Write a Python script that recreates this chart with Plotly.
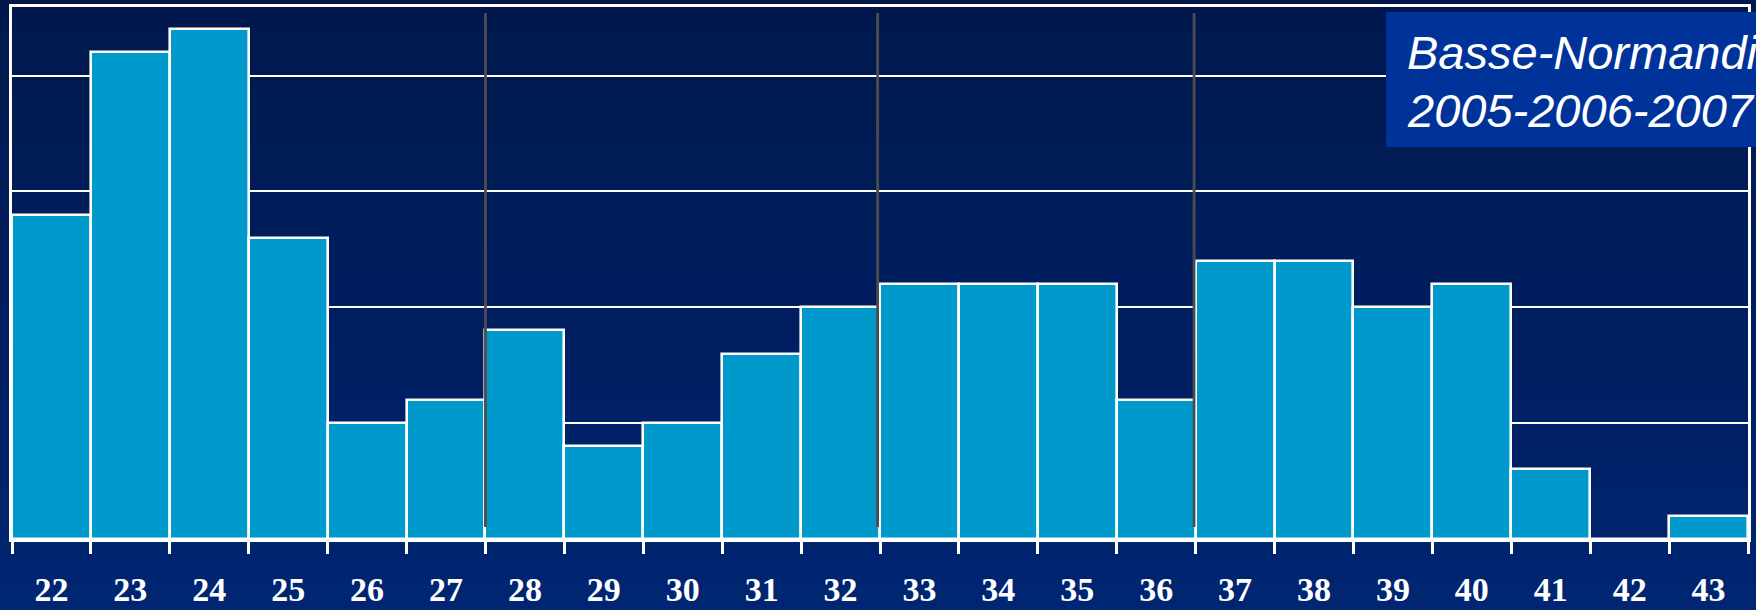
import plotly.graph_objects as go

# ---- data -----------------------------------------------------------
weeks = list(range(22, 44))
counts = [14, 21, 22, 13, 5, 6, 9, 4, 5, 8, 10, 11, 11, 11, 6, 12, 12, 10, 11, 3, 0, 1]
tick_labels = [str(w) for w in weeks]
separators = [27.5, 32.47, 36.48]
box_lines = ["Basse-Normandie", "2005-2006-2007"]

# ---- page geometry --------------------------------------------------
W, H = 1756, 610
ML, MR, MT, MB = 12, 8, 7, 71
PH = H - MT - MB
PW = W - ML - MR


def py2paper(py):
    return (H - MB - py) / PH


def px2paper(px):
    return (px - ML) / PW


fig = go.Figure()
fig.add_trace(go.Bar(
    x=weeks, y=counts,
    marker=dict(color="#0099cc", line=dict(color="white", width=2.6)),
    width=1.0,
    hoverinfo="x+y",
))

shapes = []
# vertical background gradient (page-wide)
top_c = (0, 24, 76)
bot_c = (0, 37, 114)
n = 61
for i in range(n):
    t = i / (n - 1)
    c = tuple(round(top_c[k] + (bot_c[k] - top_c[k]) * t) for k in range(3))
    y0 = H * i / n
    y1 = H * (i + 1) / n + 1
    shapes.append(dict(type="rect", xref="paper", yref="paper",
                       x0=px2paper(-5), x1=px2paper(W + 5),
                       y0=py2paper(y1), y1=py2paper(y0),
                       fillcolor="rgb(%d,%d,%d)" % c, line=dict(width=0),
                       layer="below"))

# grey separators
for s in separators:
    shapes.append(dict(type="line", xref="x", yref="y", x0=s, x1=s,
                       y0=0.52, y1=22.7,
                       line=dict(color="#4d4d4d", width=2.8), layer="above"))

# title box
shapes.append(dict(type="rect", xref="paper", yref="paper",
                   x0=px2paper(1386), x1=px2paper(W + 10),
                   y0=py2paper(147), y1=py2paper(12),
                   fillcolor="#003399", line=dict(width=0), layer="above"))

annotations = []
for line_text, cy in zip(box_lines, [53, 110]):
    annotations.append(dict(
        xref="paper", yref="paper",
        x=px2paper(1405), y=py2paper(cy),
        xanchor="left", yanchor="middle", align="left",
        text=line_text, showarrow=False,
        font=dict(family="Liberation Sans, Arial", size=47, color="white",
                  style="italic"),
    ))

fig.update_layout(
    width=W, height=H,
    margin=dict(l=ML, r=MR, t=MT, b=MB, pad=0, autoexpand=False),
    paper_bgcolor="#001e5e",
    plot_bgcolor="rgba(0,0,0,0)",
    bargap=0,
    showlegend=False,
    shapes=shapes,
    annotations=annotations,
    xaxis=dict(
        range=[21.5, 43.5], automargin=False,
        tickmode="array", tickvals=weeks, ticktext=tick_labels,
        ticks="outside", ticklen=18, tickcolor="rgba(0,0,0,0)",
        tickfont=dict(family="Liberation Serif, Times New Roman", size=34,
                      color="white", weight="bold"),
        showgrid=False, zeroline=False,
        showline=True, linecolor="white", linewidth=2.6, mirror=True,
        minor=dict(tick0=21.5, dtick=1, ticks="outside", ticklen=12,
                   tickcolor="white", tickwidth=2.6, showgrid=False),
        fixedrange=True,
    ),
    yaxis=dict(
        range=[0, 22.96], dtick=5, tick0=0, automargin=False,
        showticklabels=False, ticks="",
        showgrid=True, gridcolor="white", gridwidth=2.2,
        zeroline=False,
        showline=True, linecolor="white", linewidth=2.6, mirror=True,
        fixedrange=True,
    ),
)

fig.write_html(
    "out.html",
    config={"displayModeBar": False},
    post_script="document.body.style.margin='0';document.body.style.overflow='hidden';"
                "document.documentElement.style.overflow='hidden';",
)
